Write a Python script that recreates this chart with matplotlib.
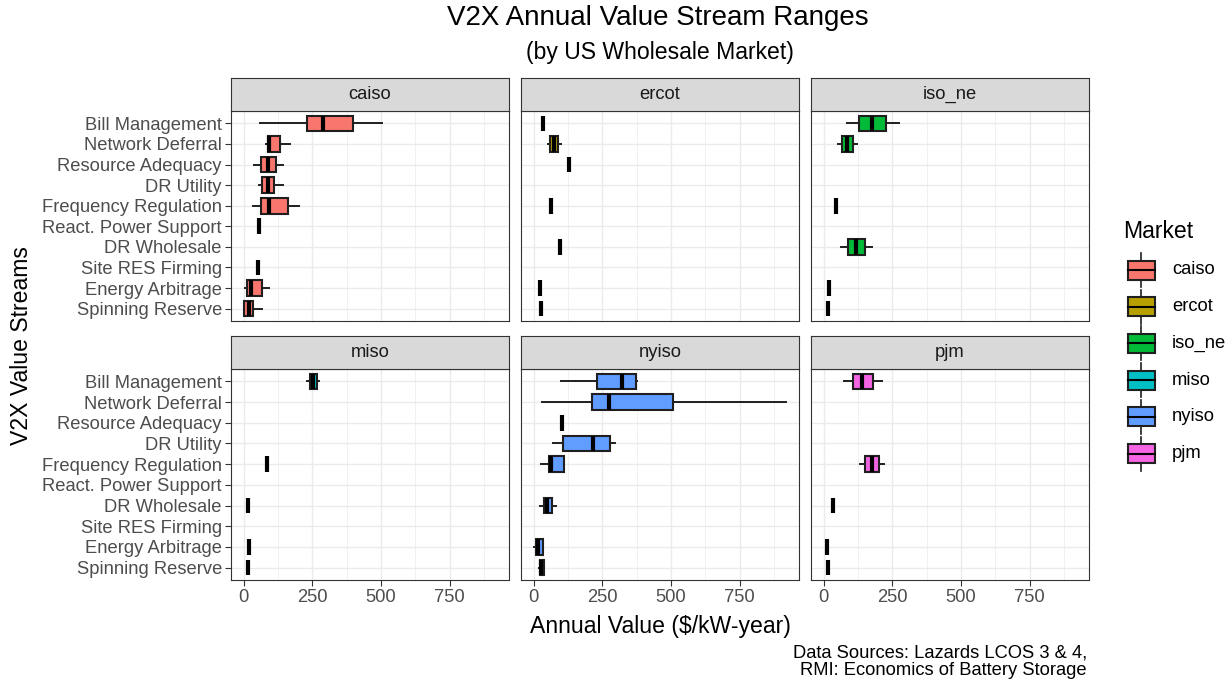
import numpy as np
import matplotlib
matplotlib.use('Agg')
import matplotlib.pyplot as plt
from matplotlib.patches import Rectangle

plt.rcParams['font.family'] = ['Liberation Sans', 'DejaVu Sans']

# value streams, top to bottom
streams = ['Bill Management', 'Network Deferral', 'Resource Adequacy', 'DR Utility',
           'Frequency Regulation', 'React. Power Support', 'DR Wholesale',
           'Site RES Firming', 'Energy Arbitrage', 'Spinning Reserve']

markets = ['caiso', 'ercot', 'iso_ne', 'miso', 'nyiso', 'pjm']
colors = ['#F8766D', '#B79F00', '#00BA38', '#00BFC4', '#619CFF', '#F564E3']

# (whisker low, q1, median, q3, whisker high) per stream, single number = one value, None = no data
caiso = [(58, 232, 289, 397, 502), (82, 88, 92, 132, 169), (36, 63, 88, 116, 143),
         (56, 67, 88, 109, 142), (34, 64, 92, 162, 202), 56, None, 51,
         (6, 12, 28, 68, 94), (0, 0, 19, 35, 67)]
ercot = [34, (52, 61, 74, 89, 98), 128, None, 64, None, 97, None, 24, 26]
iso_ne = [(85, 129, 177, 227, 273), (52, 67, 85, 107, 121), None, None, 44, None,
          (62, 87, 119, 151, 177), None, 18, 16]
miso = [(230, 240, 253, 266, 275), None, None, None, 84, None, 17, None, 19, 17]
nyiso = [(101, 232, 322, 374, 378), (30, 213, 275, 509, 920), 104, (72, 107, 215, 279, 298),
         (28, 55, 64, 111, 111), None, (23, 36, 47, 68, 80), None,
         (1, 10, 16, 34, 34), (18, 22, 28, 36, 39)]
pjm = [(74, 106, 141, 180, 213), None, None, None, (134, 152, 175, 200, 220), None,
       34, None, 12, 16]
market_data = [caiso, ercot, iso_ne, miso, nyiso, pjm]

x_ticks = [0, 250, 500, 750]
x_minor = [125, 375, 625, 875]

W, H = 1232, 682
fig = plt.figure(figsize=(W / 100, H / 100), dpi=100)


def frac(x0, y0, x1, y1):
    # pixel box -> figure fraction
    return [x0 / W, 1 - y1 / H, (x1 - x0) / W, (y1 - y0) / H]


col_px = [(231, 509), (521, 799), (811, 1089)]
row_px = [(111, 321), (369, 580)]
strip_h = 33
dark = '#333333'
edge = '#1F1F1F'

n = len(streams)
for i, (name, data, col) in enumerate(zip(markets, market_data, colors)):
    r, c = divmod(i, 3)
    x0, x1 = col_px[c]
    y0, y1 = row_px[r]
    ax = fig.add_axes(frac(x0, y0, x1, y1))

    stats, pos = [], []
    for j, v in enumerate(data):
        if v is None:
            continue
        if np.isscalar(v):
            v = (v,) * 5
        stats.append(dict(whislo=v[0], q1=v[1], med=v[2], q3=v[3], whishi=v[4]))
        pos.append(n - j)

    ax.bxp(stats, positions=pos, orientation='horizontal', widths=0.76,
           showcaps=False, showfliers=False, patch_artist=True,
           boxprops=dict(facecolor=col, edgecolor=edge, linewidth=1.5),
           whiskerprops=dict(color=edge, linewidth=1.4),
           medianprops=dict(color='black', linewidth=3.0, solid_capstyle='butt'))

    ax.set_xlim(-46, 966)
    ax.set_ylim(0.4, n + 0.6)
    ax.set_xticks(x_ticks)
    ax.set_xticks(x_minor, minor=True)
    ax.set_yticks(range(1, n + 1))
    ax.grid(True, which='major', color='#EBEBEB', linewidth=1.0, zorder=0)
    ax.grid(True, which='minor', axis='x', color='#EBEBEB', linewidth=0.5, zorder=0)
    ax.set_axisbelow(True)
    for s in ax.spines.values():
        s.set_color(dark)
        s.set_linewidth(0.8)
    ax.tick_params(which='minor', length=0)
    ax.tick_params(which='major', length=4.5, width=0.8, color=dark,
                   labelsize=13.2, labelcolor='#4D4D4D', pad=2)
    if r == 1:
        ax.set_xticklabels([str(t) for t in x_ticks])
    else:
        ax.tick_params(axis='x', length=0, labelbottom=False)
    if c == 0:
        ax.set_yticklabels(streams[::-1])
    else:
        ax.tick_params(axis='y', length=0, labelleft=False)

    # facet strip
    sax = fig.add_axes(frac(x0, y0 - strip_h, x1, y0))
    sax.set_facecolor('#D9D9D9')
    sax.set_xticks([])
    sax.set_yticks([])
    for s in sax.spines.values():
        s.set_color(dark)
        s.set_linewidth(0.8)
    sax.text(0.5, 0.5, name, ha='center', va='center', fontsize=13.2,
             color='#1A1A1A', transform=sax.transAxes)

# titles and axis labels
fig.text(658 / W, 1 - 18 / H, 'V2X Annual Value Stream Ranges', ha='center', va='center', fontsize=20)
fig.text(660 / W, 1 - 52 / H, '(by US Wholesale Market)', ha='center', va='center', fontsize=16.6)
fig.text(660 / W, 1 - 627 / H, 'Annual Value ($/kW-year)', ha='center', va='center', fontsize=16.6)
fig.text(22 / W, 1 - 346 / H, 'V2X Value Streams', ha='center', va='center',
         rotation=90, fontsize=16.6)
fig.text(1087 / W, 1 - 662 / H, 'Data Sources: Lazards LCOS 3 & 4,\nRMI: Economics of Battery Storage',
         ha='right', va='center', multialignment='right', fontsize=13.2, linespacing=1.05)

# legend drawn in pixel space
lax = fig.add_axes([0, 0, 1, 1])
lax.set_xlim(0, W)
lax.set_ylim(H, 0)
lax.axis('off')
lax.text(1123, 232, 'Market', ha='left', va='center', fontsize=16.6)
for k, (name, col) in enumerate(zip(markets, colors)):
    yc = 270 + k * 36.7
    lax.plot([1141, 1141], [yc - 17, yc + 17], color=edge, linewidth=1.2, zorder=1)
    lax.add_patch(Rectangle((1128, yc - 9.5), 27, 19, facecolor=col, edgecolor=edge,
                            linewidth=1.5, zorder=2))
    lax.plot([1128, 1155], [yc, yc], color='black', linewidth=1.5, zorder=3)
    lax.text(1172, yc, name, ha='left', va='center', fontsize=13.2)

fig.savefig('out.png', dpi=100)
